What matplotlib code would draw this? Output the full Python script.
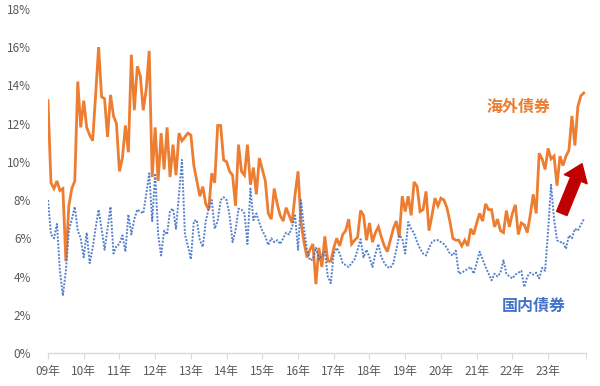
import matplotlib
matplotlib.use("Agg")
import matplotlib.pyplot as plt
import numpy as np

plt.rcParams['font.family'] = ['Noto Sans CJK JP', 'DejaVu Sans']

# Monthly values (%), Jan 2009 .. Jan 2024
overseas = [
    13.2, 8.9, 8.6, 9.0, 8.5, 8.6, 4.8, 7.7, 8.6, 9.0, 14.2, 11.8,      # 2009
    13.2, 11.8, 11.4, 11.1, 13.5, 16.0, 13.4, 13.3, 11.3, 13.5, 12.4, 12.0,  # 2010
    9.5, 10.2, 11.9, 10.5, 15.6, 12.7, 15.0, 14.5, 12.7, 13.8, 15.8, 9.2,  # 2011
    11.8, 9.0, 11.5, 9.6, 11.8, 9.2, 10.9, 9.3, 11.5, 11.1, 11.3, 11.5,   # 2012
    11.4, 9.8, 9.0, 8.2, 8.7, 7.8, 7.5, 9.4, 8.9, 11.9, 11.9, 10.1,       # 2013
    10.0, 9.5, 9.3, 7.7, 10.9, 9.5, 9.3, 10.9, 8.8, 9.7, 8.3, 10.2,       # 2014
    9.6, 9.0, 7.3, 7.0, 8.6, 7.8, 7.2, 6.9, 7.6, 7.2, 6.8, 8.3,           # 2015
    9.5, 6.8, 5.8, 5.0, 5.4, 5.7, 3.6, 5.5, 4.5, 6.1, 4.8, 4.8,           # 2016
    5.5, 6.0, 5.6, 6.2, 6.4, 7.0, 5.7, 5.9, 6.05, 7.45, 7.2, 5.9,         # 2017
    6.8, 5.8, 6.3, 6.6, 6.05, 5.6, 5.3, 5.9, 6.5, 6.9, 6.05, 8.2,         # 2018
    7.4, 8.2, 7.2, 8.95, 8.7, 7.4, 7.5, 8.45, 6.4, 7.2, 8.1, 7.7,         # 2019
    8.1, 8.0, 7.6, 6.9, 6.0, 5.9, 5.9, 5.6, 5.9, 5.6, 6.5, 6.2,           # 2020
    6.8, 7.3, 6.9, 7.8, 7.5, 7.5, 6.6, 7.0, 6.4, 6.3, 7.45, 6.6,          # 2021
    7.3, 7.75, 6.2, 6.8, 6.7, 6.3, 7.2, 8.3, 7.3, 10.45, 10.15, 9.6,      # 2022
    10.7, 10.15, 10.3, 8.75, 10.3, 9.8, 10.3, 10.6, 12.4, 10.85, 12.9, 13.45,  # 2023
    13.6,                                                                # 2024
]

domestic = [
    8.0, 6.2, 6.0, 6.75, 4.3, 3.0, 4.3, 6.4, 7.0, 7.65, 6.4, 6.0,         # 2009
    5.0, 6.3, 4.7, 5.5, 6.55, 7.5, 6.5, 5.4, 6.5, 7.65, 5.2, 5.6,         # 2010
    5.7, 6.15, 5.3, 7.25, 6.2, 7.0, 7.5, 7.4, 7.3, 8.3, 9.4, 6.9,         # 2011
    9.4, 6.2, 5.1, 6.4, 6.2, 7.45, 7.55, 6.5, 8.3, 10.1, 6.2, 5.6,        # 2012
    4.9, 6.9, 6.95, 5.9, 5.55, 6.9, 7.55, 8.0, 6.5, 6.9, 8.0, 8.15,       # 2013
    8.0, 7.2, 5.8, 6.4, 7.55, 7.5, 7.3, 5.7, 8.6, 6.95, 7.3, 6.8,         # 2014
    6.4, 6.1, 5.65, 6.0, 5.8, 5.9, 5.7, 6.0, 6.3, 6.2, 6.6, 7.2,          # 2015
    5.4, 8.0, 6.5, 5.4, 4.85, 4.9, 5.5, 4.9, 5.1, 5.3, 4.0, 3.65,         # 2016
    5.2, 5.5, 5.2, 4.7, 4.6, 4.5, 4.7, 4.9, 5.4, 5.95, 5.0, 5.4,          # 2017
    5.0, 4.5, 5.2, 5.7, 5.0, 4.7, 4.5, 4.45, 4.7, 5.4, 6.15, 6.0,         # 2018
    5.2, 6.85, 6.5, 6.25, 5.8, 5.45, 5.2, 5.1, 5.5, 5.8, 5.9, 5.9,        # 2019
    5.8, 5.7, 5.5, 5.2, 5.1, 5.35, 4.15, 4.2, 4.3, 4.4, 4.5, 4.15,        # 2020
    4.7, 5.3, 4.9, 4.5, 4.15, 3.8, 4.15, 4.0, 4.2, 4.85, 4.15, 4.0,       # 2021
    3.9, 4.1, 4.2, 4.3, 3.45, 4.0, 4.2, 4.1, 4.2, 3.9, 4.45, 4.3,         # 2022
    6.4, 8.8, 7.0, 5.9, 5.8, 5.8, 5.45, 6.15, 6.0, 6.5, 6.4, 6.7,         # 2023
    7.0,                                                                 # 2024
]

year_labels = ['09年', '10年', '11年', '12年', '13年', '14年', '15年', '16年',
               '17年', '18年', '19年', '20年', '21年', '22年', '23年']
y_ticks = [0, 2, 4, 6, 8, 10, 12, 14, 16, 18]

ORANGE = '#ED7D31'
BLUE = '#4472C4'
GRAY = '#595959'

fig = plt.figure(figsize=(6.0, 3.86), dpi=100)
ax = fig.add_axes([0.08, 0.0855, 0.897, 0.8915])

months = np.arange(len(overseas))
ax.plot(months, overseas, color=ORANGE, lw=2.0, solid_joinstyle='miter')
ax.plot(np.arange(len(domestic)), domestic, color=BLUE, lw=1.4,
        linestyle=(0, (1.0, 0.8)), dash_capstyle='butt', alpha=0.9)

ax.set_xlim(0, 180.8)
ax.set_ylim(0, 18)
ax.set_yticks(y_ticks)
ax.set_yticklabels([f'{t}%' for t in y_ticks], color=GRAY, fontsize=8.5)
ax.tick_params(axis='y', length=0, pad=12)

major = [12 * i for i in range(len(year_labels))]
ax.set_xticks(major)
ax.set_xticklabels(year_labels, color=GRAY, fontsize=8.5)
ax.set_xticks([180.8], minor=True)
ax.tick_params(axis='x', which='both', length=4, color='#D9D9D9', pad=5)

for s in ['top', 'right', 'left']:
    ax.spines[s].set_visible(False)
ax.spines['bottom'].set_color('#D9D9D9')
ax.spines['bottom'].set_linewidth(1.0)

ax.text(158.0, 12.85, '海外債券', color=ORANGE, fontsize=11.5, fontweight='bold',
        ha='center', va='center')
ax.text(163.3, 2.45, '国内債券', color=BLUE, fontsize=11.5, fontweight='bold',
        ha='center', va='center')

ax.annotate('', xy=(179.4, 9.9), xytext=(172.6, 7.3),
            arrowprops=dict(arrowstyle='simple,head_width=1.1,head_length=0.75,tail_width=0.5',
                            color='#C00000', mutation_scale=16, shrinkA=0, shrinkB=0))

fig.savefig('out.png', dpi=100)
